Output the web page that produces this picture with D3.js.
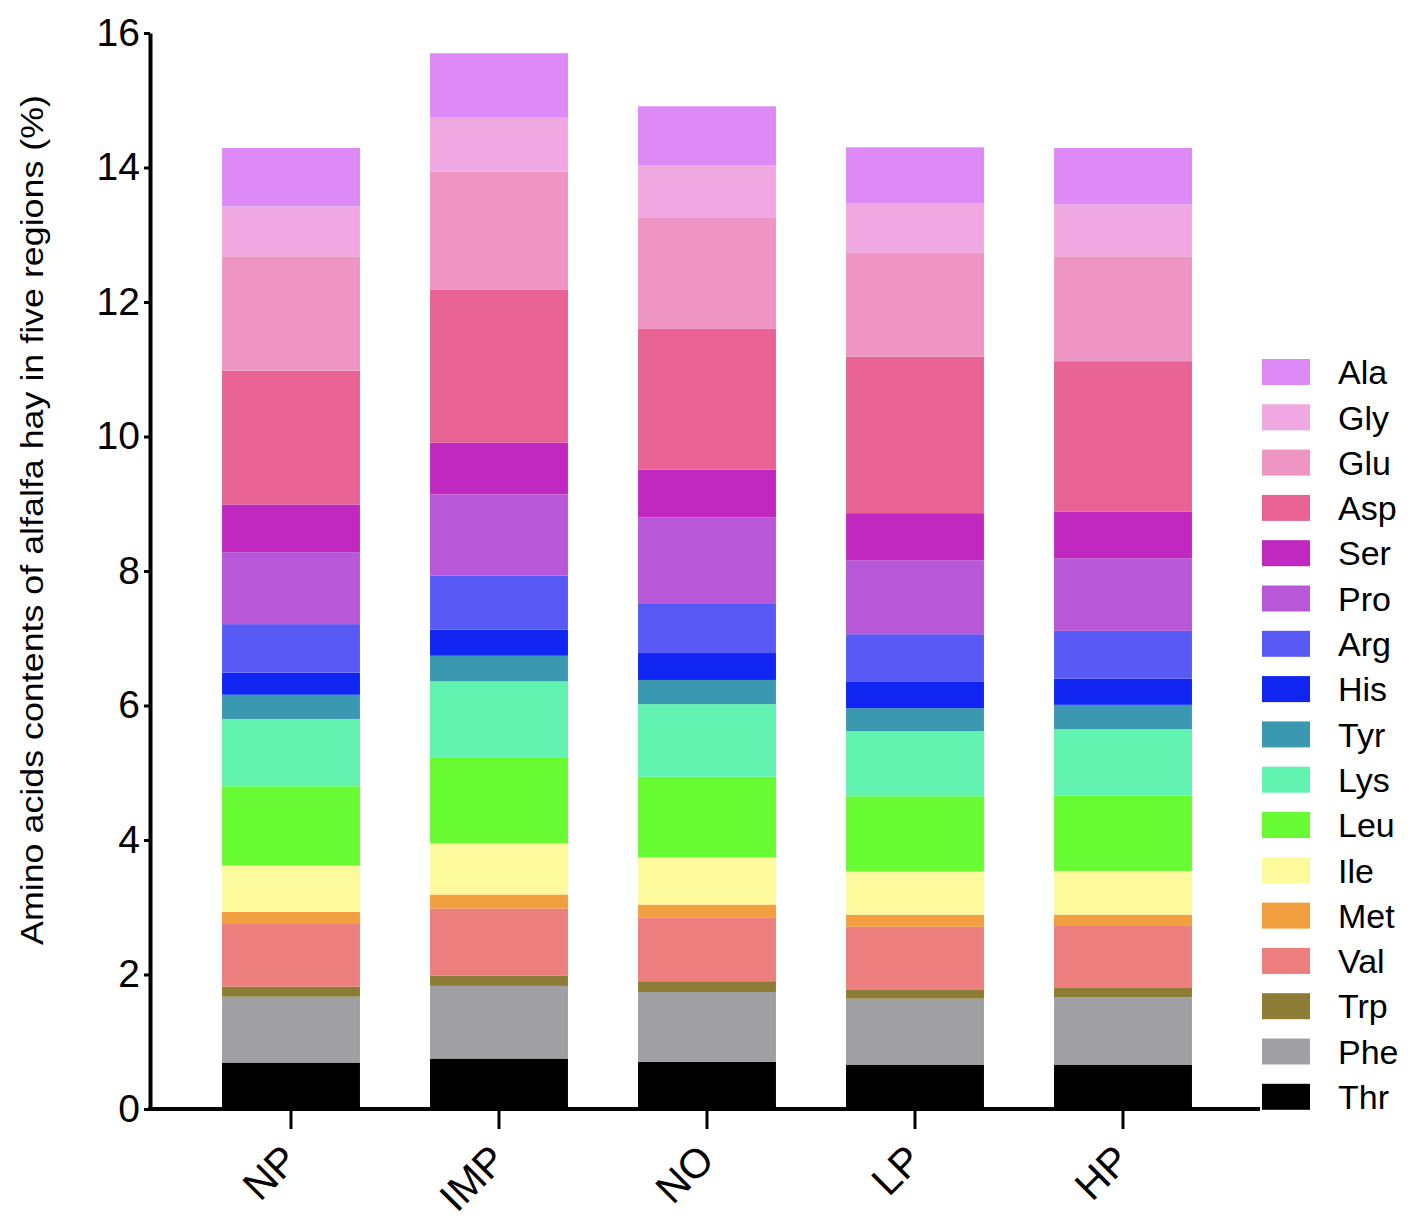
<!DOCTYPE html>
<html>
<head>
    <script src="https://cdn.jsdelivr.net/npm/d3@7"></script>
    <style>
        body { margin: 0; background: #fff; }
        text { font-family: "Liberation Sans", Arial, sans-serif; }
    </style>
</head>
<body>
<svg id="chart" width="1418" height="1227"></svg>
<script>
// regions along the x axis
const regions = ["NP", "IMP", "NO", "LP", "HP"];

// amino acids, bottom of the stack first
const acids = ["Thr", "Phe", "Trp", "Val", "Met", "Ile", "Leu", "Lys", "Tyr",
               "His", "Arg", "Pro", "Ser", "Asp", "Glu", "Gly", "Ala"];

// contents (%) per acid, in region order NP, IMP, NO, LP, HP
const Thr = [0.69, 0.75, 0.70, 0.66, 0.66];
const Phe = [0.98, 1.08, 1.04, 0.98, 1.00];
const Trp = [0.15, 0.15, 0.16, 0.13, 0.14];
const Val = [0.93, 1.00, 0.95, 0.94, 0.92];
const Met = [0.18, 0.21, 0.19, 0.18, 0.17];
const Ile = [0.69, 0.76, 0.70, 0.64, 0.65];
const Leu = [1.18, 1.27, 1.20, 1.12, 1.12];
const Lys = [1.00, 1.14, 1.08, 0.97, 0.99];
const Tyr = [0.36, 0.38, 0.36, 0.34, 0.36];
const His = [0.33, 0.39, 0.40, 0.39, 0.39];
const Arg = [0.72, 0.80, 0.73, 0.71, 0.71];
const Pro = [1.07, 1.21, 1.29, 1.10, 1.08];
const Ser = [0.71, 0.77, 0.71, 0.70, 0.69];
const Asp = [1.99, 2.27, 2.09, 2.33, 2.24];
const Glu = [1.70, 1.76, 1.66, 1.54, 1.56];
const Gly = [0.74, 0.80, 0.77, 0.74, 0.77];
const Ala = [0.87, 0.96, 0.88, 0.83, 0.84];

const yTicks = [0, 2, 4, 6, 8, 10, 12, 14, 16];

const colors = {
    Thr: "#000000", Phe: "#a0a0a4", Trp: "#8c7c36", Val: "#ec7f7d",
    Met: "#f29f40", Ile: "#fdfa9e", Leu: "#68fa32", Lys: "#62f3b0",
    Tyr: "#3a98b0", His: "#1024f2", Arg: "#585af6", Pro: "#b857d8",
    Ser: "#c028c0", Asp: "#e86393", Glu: "#ef95c3", Gly: "#f0a8e3",
    Ala: "#dd8af7"
};

const series = { Thr, Phe, Trp, Val, Met, Ile, Leu, Lys, Tyr, His, Arg, Pro, Ser, Asp, Glu, Gly, Ala };

// one row per region for d3.stack
const table = regions.map((r, i) => {
    const row = { region: r };
    acids.forEach(a => row[a] = series[a][i]);
    return row;
});

const svg = d3.select("#chart");

const x = d3.scaleBand()
    .domain(regions)
    .range([187, 1227])
    .paddingInner(0.337)
    .paddingOuter(0.1685);

const y = d3.scaleLinear().domain([0, 16]).range([1109, 33]);

const stacked = d3.stack().keys(acids)(table);

svg.append("g")
    .selectAll("g")
    .data(stacked)
    .join("g")
    .attr("fill", d => colors[d.key])
    .selectAll("rect")
    .data(d => d)
    .join("rect")
    .attr("x", d => x(d.data.region))
    .attr("y", d => y(d[1]))
    .attr("width", x.bandwidth())
    .attr("height", d => y(d[0]) - y(d[1]));

// y axis
const yAxis = svg.append("g")
    .attr("transform", "translate(150,0)")
    .call(d3.axisLeft(y).tickValues(yTicks).tickSize(6).tickPadding(4).tickSizeOuter(0));
yAxis.select(".domain").attr("stroke-width", 4);
yAxis.selectAll(".tick line").attr("stroke-width", 3);
yAxis.selectAll(".tick text")
    .attr("font-size", 39)
    .attr("font-family", "'Liberation Sans', Arial, sans-serif")
    .attr("fill", "#000");

// x axis
const xAxis = svg.append("g")
    .attr("transform", "translate(0,1109)")
    .call(d3.axisBottom(x).tickSize(20).tickSizeOuter(0));
xAxis.select(".domain").attr("d", "M148,0H1260").attr("stroke-width", 4);
xAxis.selectAll(".tick line").attr("stroke-width", 3);
xAxis.selectAll(".tick text")
    .attr("font-size", 41)
    .attr("font-family", "'Liberation Sans', Arial, sans-serif")
    .attr("fill", "#000")
    .attr("text-anchor", "end")
    .attr("transform", "translate(-11,33) rotate(-45)")
    .attr("dy", "0.7em")
    .attr("y", 0);

// y axis title
svg.append("text")
    .attr("transform", "translate(43,520) rotate(-90)")
    .attr("text-anchor", "middle")
    .attr("font-size", 31)
    .attr("textLength", 850)
    .attr("lengthAdjust", "spacingAndGlyphs")
    .text("Amino acids contents of alfalfa hay in five regions (%)");

// legend, top entry first
const legend = svg.append("g")
    .selectAll("g")
    .data(acids.slice().reverse())
    .join("g")
    .attr("transform", (d, i) => `translate(1262,${372 + i * 45.3})`);

legend.append("rect")
    .attr("x", 0)
    .attr("y", -13)
    .attr("width", 48)
    .attr("height", 26)
    .attr("fill", d => colors[d]);

legend.append("text")
    .attr("x", 76)
    .attr("y", 0)
    .attr("dy", "0.36em")
    .attr("font-size", 34)
    .attr("fill", "#000")
    .text(d => d);
</script>
</body>
</html>
